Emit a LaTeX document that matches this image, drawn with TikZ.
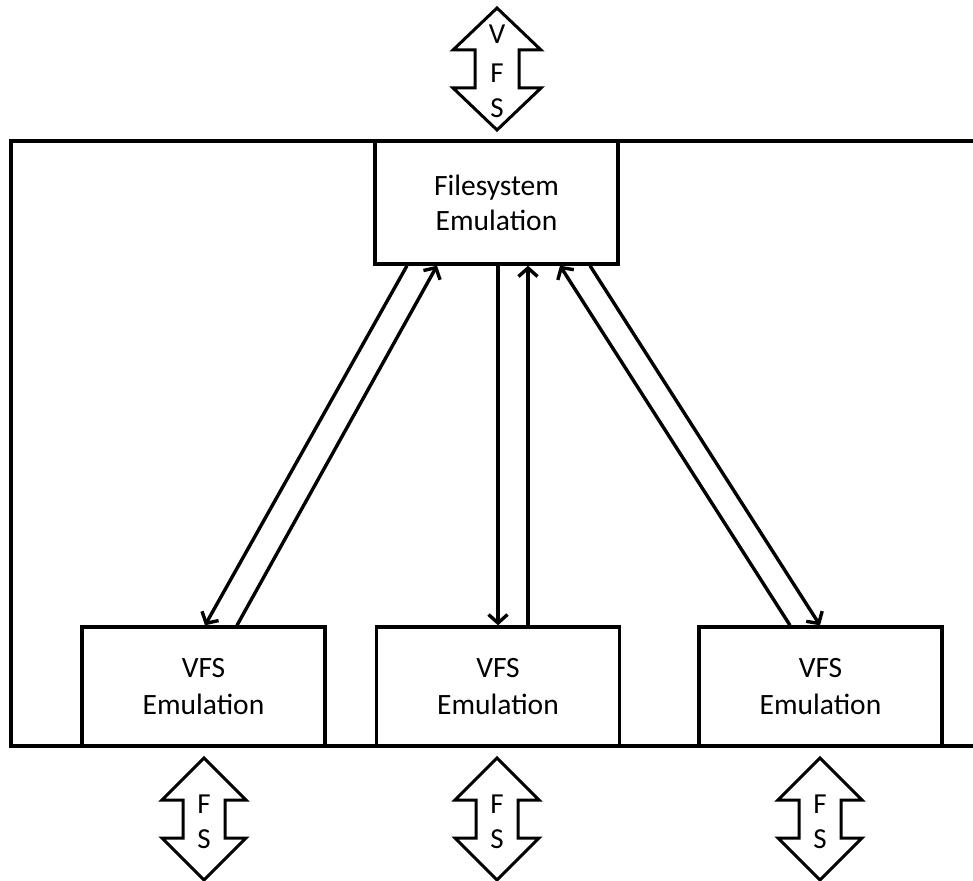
\documentclass[tikz,border=0pt]{standalone}
\usepackage{fontspec}
\setmainfont{Carlito}
\usetikzlibrary{arrows.meta}
\begin{document}
\begin{tikzpicture}[x=1pt,y=-1pt,
  box/.style={draw,line width=3.4pt,minimum width=243pt,minimum height=119pt,
    align=center,inner sep=0pt,font=\fontsize{29.5}{37}\selectfont},
  link/.style={draw,line width=3.4pt,-{Straight Barb[length=8.5pt,width=19pt]}},
  dbl/.style={draw,line width=3pt,line join=miter},
  lbl/.style={font=\fontsize{29}{34}\selectfont,inner sep=0pt}]
\useasboundingbox (0,0) rectangle (973,880);

% outer frame, open on the right
\draw[line width=3.4pt] (980,141) -- (11,141) -- (11,746) -- (980,746);

% components
\node[box,fill=white,minimum height=123pt,font=\fontsize{29.5}{35}\selectfont] (fs) at (496.5,202.5) {Filesystem\\Emulation};
\node[box] (v1) at (203.5,686.5) {VFS\\Emulation};
\node[box] (v2) at (498,686.5) {VFS\\Emulation};
\node[box] (v3) at (820.5,686.5) {VFS\\Emulation};

% request / reply pairs
\draw[link] ([xshift=-89.5pt]fs.south) -- ([xshift=1.5pt]v1.north);
\draw[link] ([xshift=33.5pt]v1.north) -- ([xshift=-59.5pt]fs.south);
\draw[link] ([xshift=1.5pt]fs.south) -- (v2.north);
\draw[link] ([xshift=30pt]v2.north) -- ([xshift=31.5pt]fs.south);
\draw[link] ([xshift=-30.5pt]v3.north) -- ([xshift=63.5pt]fs.south);
\draw[link] ([xshift=93.5pt]fs.south) -- ([xshift=-0.5pt]v3.north);

% VFS interface on top
\draw[dbl] (497,8) -- (541,50) -- (519,50) -- (519,88) -- (541,88) -- (497,130)
  -- (453,88) -- (475,88) -- (475,50) -- (453,50) -- cycle;
\node[lbl] (tv) at (497,34) {V};
\node[lbl] (tf) at (497,73) {F};
\node[lbl] (ts) at (497,108) {S};

% FS interfaces below
\foreach \cx/\n in {204/a,497/b,820/c}{
  \draw[dbl] (\cx,758) -- (\cx+42,800) -- (\cx+21,800) -- (\cx+21,838) -- (\cx+42,838)
    -- (\cx,880) -- (\cx-42,838) -- (\cx-21,838) -- (\cx-21,800) -- (\cx-42,800) -- cycle;
  \node[lbl] (f\n) at (\cx,804) {F};
  \node[lbl] (s\n) at (\cx,839) {S};
}
\end{tikzpicture}
\end{document}
